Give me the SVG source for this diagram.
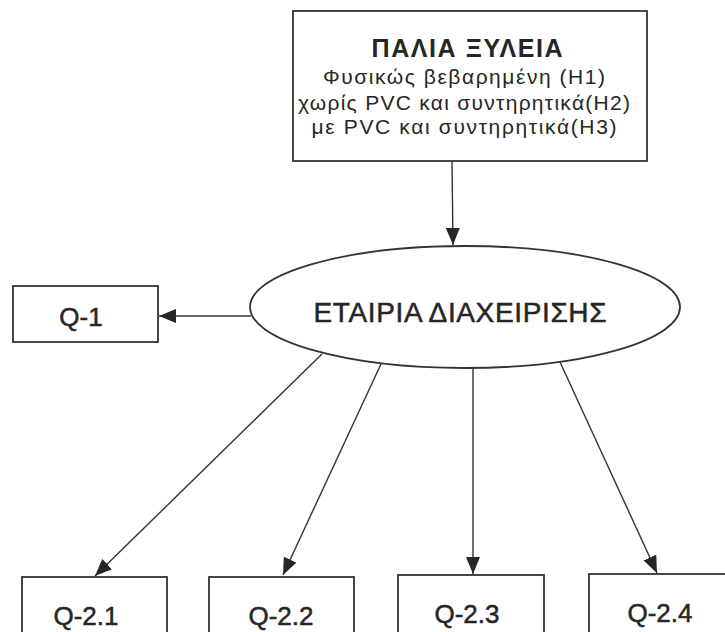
<svg xmlns="http://www.w3.org/2000/svg" width="725" height="632" viewBox="0 0 725 632">
<defs>
<style>
.box{fill:#fff;stroke:#333;stroke-width:1.8}
.t{font-family:"Liberation Sans",Arial,sans-serif;fill:#262626;text-anchor:middle}
.th{stroke:#262626;stroke-width:0.5}
.con{fill:none;stroke:#333;stroke-width:1.4}
</style>
<marker id="ah" markerUnits="userSpaceOnUse" markerWidth="19" markerHeight="15" refX="17" refY="7" orient="auto">
<path d="M0,0 L17,7 L0,14 z" fill="#262626"/>
</marker>
</defs>
<rect width="725" height="632" fill="#fff"/>
<g id="connectors">
<path class="con" d="M452,161 L453,245" marker-end="url(#ah)"/>
<path class="con" d="M251,316 L159,316" marker-end="url(#ah)"/>
<path class="con" d="M322,354 L95,576" marker-end="url(#ah)"/>
<path class="con" d="M381,364 L283,575" marker-end="url(#ah)"/>
<path class="con" d="M473,368 L473,574" marker-end="url(#ah)"/>
<path class="con" d="M560,362 L657,573" marker-end="url(#ah)"/>
</g>
<g id="palia-xyleia">
<rect class="box" x="293" y="11" width="354" height="150"/>
<text class="t" x="467" y="57" font-size="25" font-weight="bold" textLength="191" lengthAdjust="spacing">ΠΑΛΙΑ ΞΥΛΕΙΑ</text>
<text class="t" x="464" y="84" font-size="21" textLength="282" lengthAdjust="spacing">Φυσικώς βεβαρημένη (H1)</text>
<text class="t" x="464" y="110" font-size="21" textLength="332" lengthAdjust="spacing">χωρίς PVC και συντηρητικά(H2)</text>
<text class="t" x="464" y="134" font-size="21" textLength="305" lengthAdjust="spacing">με PVC και συντηρητικά(H3)</text>
</g>
<g id="etairia">
<ellipse class="box" cx="465" cy="307" rx="215" ry="61"/>
<text class="t th" x="460" y="322" font-size="28" textLength="293" lengthAdjust="spacing">ΕΤΑΙΡΙΑ ΔΙΑΧΕΙΡΙΣΗΣ</text>
</g>
<g id="q1">
<rect class="box" x="13" y="286" width="145" height="56"/>
<text class="t th" x="81" y="326" font-size="26">Q-1</text>
</g>
<g id="q21">
<rect class="box" x="22" y="577" width="145" height="70"/>
<text class="t th" x="86" y="625" font-size="26">Q-2.1</text>
</g>
<g id="q22">
<rect class="box" x="209" y="577" width="145" height="70"/>
<text class="t th" x="281" y="625" font-size="26">Q-2.2</text>
</g>
<g id="q23">
<rect class="box" x="398" y="575" width="146" height="70"/>
<text class="t th" x="467" y="623" font-size="26">Q-2.3</text>
</g>
<g id="q24">
<rect class="box" x="589" y="574" width="146" height="70"/>
<text class="t th" x="660" y="622" font-size="26">Q-2.4</text>
</g>
</svg>
